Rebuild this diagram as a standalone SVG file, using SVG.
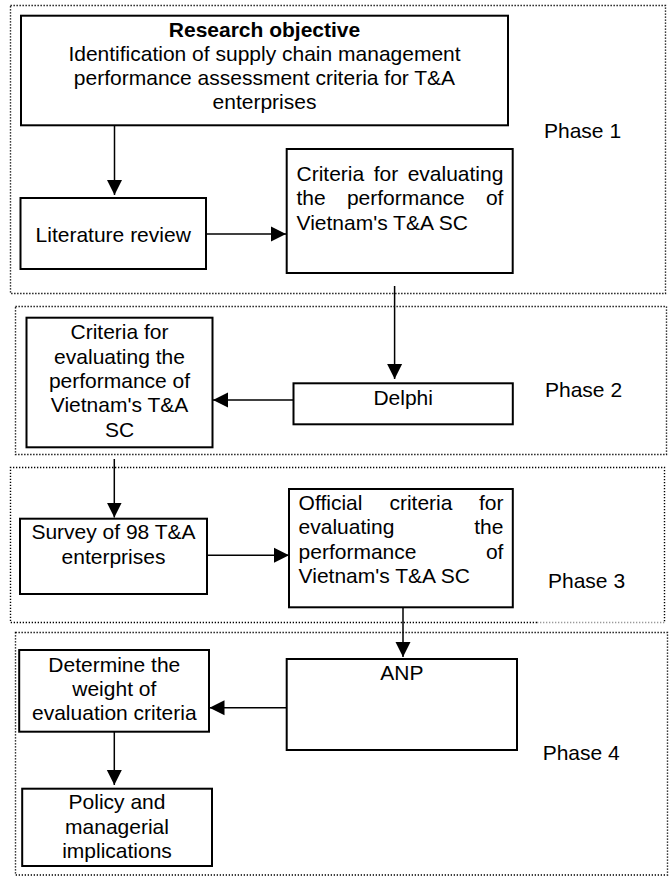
<svg xmlns="http://www.w3.org/2000/svg" width="669" height="876" viewBox="0 0 669 876">
<style>
text{font-family:"Liberation Sans",Arial,sans-serif;font-size:21px;fill:#000}
.c{text-anchor:middle}
.e{text-anchor:end}
.b{font-weight:bold}
.box{fill:#fff;stroke:#000;stroke-width:2}
.phase{fill:none;stroke:#000;stroke-width:1.4;stroke-dasharray:1.3,1.7}
.lt{stroke:#999}
.conn{stroke:#000;stroke-width:1.5;fill:none;marker-end:url(#ah)}
</style>
<defs>
<marker id="ah" markerUnits="userSpaceOnUse" markerWidth="16" markerHeight="16" refX="15" refY="8" orient="auto">
<path d="M0,0.5 L15,8 L0,15.5 z" fill="#000"/>
</marker>
</defs>
<rect width="669" height="876" fill="#fff"/>
<g id="phases">
<rect class="phase" x="10.5" y="5.5" width="655" height="288"/>
<rect class="phase" x="15.5" y="306.5" width="651" height="148"/>
<path class="phase" d="M537,622.5 H10.5 V467.5 H664.5 V622.5"/>
<path class="phase lt" d="M537,622.5 H664.5"/>
<rect class="phase" x="15.5" y="632.5" width="652" height="242.5"/>
<text x="544" y="138.3">Phase 1</text>
<text x="545" y="396.7">Phase 2</text>
<text x="548" y="588">Phase 3</text>
<text x="542.7" y="760">Phase 4</text>
</g>
<g id="connectors">
<line class="conn" x1="114.5" y1="125.7" x2="114.5" y2="195"/>
<line class="conn" x1="206" y1="234" x2="286" y2="234"/>
<line class="conn" x1="394.6" y1="286" x2="394.6" y2="379"/>
<line class="conn" x1="293.5" y1="400" x2="213" y2="400"/>
<line class="conn" x1="114.3" y1="459" x2="114.3" y2="517.5"/>
<line class="conn" x1="207" y1="555.3" x2="289" y2="555.3"/>
<line class="conn" x1="403" y1="607.3" x2="403" y2="657"/>
<line class="conn" x1="286.7" y1="707.7" x2="209.5" y2="707.7"/>
<line class="conn" x1="114.3" y1="731.7" x2="114.3" y2="785"/>
</g>
<g id="research">
<rect class="box" x="21" y="15.7" width="487" height="109.6"/>
<text class="c b" x="264.5" y="36.5">Research objective</text>
<text class="c" x="264.5" y="60.8">Identification of supply chain management</text>
<text class="c" x="264.5" y="85.1">performance assessment criteria for T&amp;A</text>
<text class="c" x="264.5" y="109.4">enterprises</text>
</g>
<g id="literature">
<rect class="box" x="20.5" y="198" width="185.5" height="71"/>
<text class="c" x="113.2" y="241.7">Literature review</text>
</g>
<g id="criteria1">
<rect class="box" x="286.7" y="149" width="226" height="124"/>
<text x="296.5" y="181">Criteria</text>
<text x="373.7" y="181">for</text>
<text class="e" x="503.4" y="181">evaluating</text>
<text x="296.5" y="205.3">the</text>
<text x="346.9" y="205.3">performance</text>
<text class="e" x="503.4" y="205.3">of</text>
<text x="296.5" y="229.6">Vietnam's T&amp;A SC</text>
</g>
<g id="delphi">
<rect class="box" x="293.5" y="383.3" width="219.3" height="41"/>
<text class="c" x="403.2" y="405">Delphi</text>
</g>
<g id="criteria2">
<rect class="box" x="26.5" y="317.7" width="186" height="129.6"/>
<text class="c" x="119.5" y="339.3">Criteria for</text>
<text class="c" x="119.5" y="363.6">evaluating the</text>
<text class="c" x="119.5" y="387.9">performance of</text>
<text class="c" x="119.5" y="412.2">Vietnam's T&amp;A</text>
<text class="c" x="119.5" y="436.5">SC</text>
</g>
<g id="survey">
<rect class="box" x="20" y="518.7" width="187" height="75.3"/>
<text class="c" x="113.5" y="539.3">Survey of 98 T&amp;A</text>
<text class="c" x="113.5" y="563.6">enterprises</text>
</g>
<g id="official">
<rect class="box" x="289" y="489" width="223.8" height="118.3"/>
<text x="298.6" y="510">Official</text>
<text x="389.4" y="510">criteria</text>
<text class="e" x="503.4" y="510">for</text>
<text x="298.6" y="534.3">evaluating</text>
<text class="e" x="503.4" y="534.3">the</text>
<text x="298.6" y="558.6">performance</text>
<text class="e" x="503.4" y="558.6">of</text>
<text x="298.6" y="582.9">Vietnam's T&amp;A SC</text>
</g>
<g id="anp">
<rect class="box" x="286.7" y="659" width="230.3" height="91"/>
<text class="c" x="401.9" y="680">ANP</text>
</g>
<g id="determine">
<rect class="box" x="19.2" y="650" width="189.8" height="81.7"/>
<text class="c" x="114.3" y="671.7">Determine the</text>
<text class="c" x="114.3" y="696">weight of</text>
<text class="c" x="114.3" y="720.3">evaluation criteria</text>
</g>
<g id="policy">
<rect class="box" x="22.2" y="788.7" width="189.8" height="77.3"/>
<text class="c" x="117" y="809.3">Policy and</text>
<text class="c" x="117" y="833.6">managerial</text>
<text class="c" x="117" y="857.9">implications</text>
</g>
</svg>
